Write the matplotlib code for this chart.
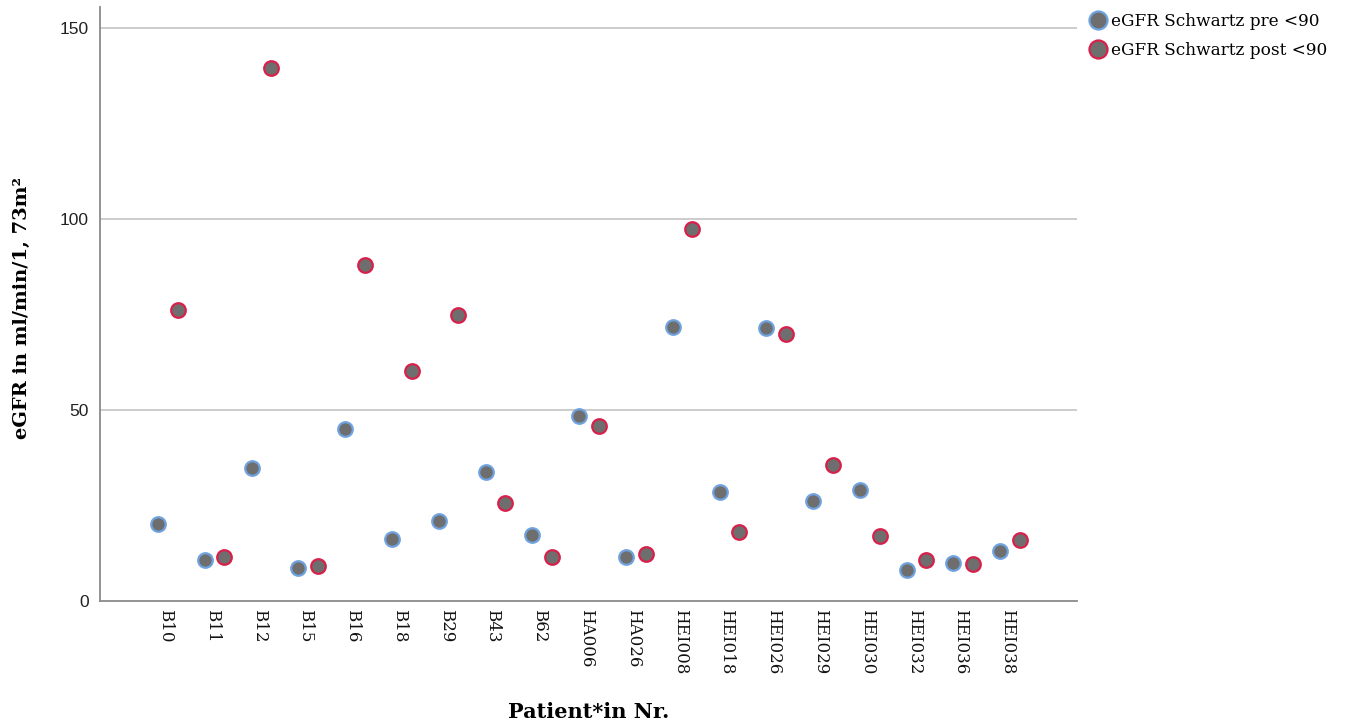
import matplotlib
matplotlib.use("Agg")
import matplotlib.pyplot as plt
import numpy as np
from matplotlib.lines import Line2D

patients = ["B10", "B11", "B12", "B15", "B16", "B18", "B29", "B43", "B62",
            "HA006", "HA026", "HEI008", "HEI018", "HEI026", "HEI029", "HEI030",
            "HEI032", "HEI036", "HEI038"]
pre = [20.2, 10.7, 34.8, 8.6, 45.0, 16.2, 20.9, 33.8, 17.3,
       48.4, 11.5, 71.7, 28.5, 71.5, 26.2, 29.1, 8.1, 9.9, 13.1]
post = [76.2, 11.5, 139.5, 9.2, 88.0, 60.2, 74.9, 25.7, 11.5,
        45.8, 12.3, 97.4, 18.1, 69.9, 35.6, 17.0, 10.7, 9.7, 16.0]
yticks = [0, 50, 100, 150]

fig = plt.figure(figsize=(13.49, 7.26), dpi=100)
ax = fig.add_axes([100/1349, 1-601/726, (1077-100)/1349, (601-7)/726])

x = np.arange(len(patients))
fill = "#6e6e6e"
ax.scatter(x - 0.21, pre, s=110, c=fill, edgecolors="#6fa3e0", linewidths=1.6, zorder=3)
ax.scatter(x + 0.21, post, s=110, c=fill, edgecolors="#d8204a", linewidths=1.6, zorder=3)

ax.set_xlim(-1.45, len(patients) - 1 + 1.43)
ax.set_ylim(0, 155.5)
ax.set_yticks(yticks)
ax.set_yticklabels([str(v) for v in yticks], fontsize=12.5, family="Liberation Sans", color="#222222")
for v in yticks[1:]:
    ax.axhline(v, color="#c8c8c8", lw=1.3, zorder=1)

ax.set_xticks(x - 0.05)
ax.set_xticklabels(patients, rotation=270, fontsize=12, family="DejaVu Serif", color="#111111")
ax.tick_params(axis="x", length=0, pad=6)
ax.tick_params(axis="y", length=0, pad=8)

for s in ["top", "right"]:
    ax.spines[s].set_visible(False)
for s in ["left", "bottom"]:
    ax.spines[s].set_color("#8a8a8a")
    ax.spines[s].set_linewidth(1.3)

fig.text(589/1349, 1-712/726, "Patient*in Nr.", ha="center", va="center",
         fontsize=15, fontweight="bold", family="DejaVu Serif")
fig.text(22/1349, 1-308/726, "eGFR in ml/min/1, 73m²", ha="center", va="center",
         rotation=90, fontsize=14, fontweight="bold", family="DejaVu Serif")

handles = [Line2D([], [], ls="", marker="o", markersize=13, markerfacecolor=fill,
                  markeredgecolor="#6fa3e0", markeredgewidth=1.6),
           Line2D([], [], ls="", marker="o", markersize=13, markerfacecolor=fill,
                  markeredgecolor="#d8204a", markeredgewidth=1.6)]
fig.legend(handles, ["eGFR Schwartz pre <90", "eGFR Schwartz post <90"],
           loc="upper left", bbox_to_anchor=(1080/1349, 1-6/726), frameon=False,
           prop={"family": "DejaVu Serif", "size": 12.2}, handletextpad=0.15,
           labelspacing=0.7, borderaxespad=0, handlelength=1.3)

fig.savefig("out.png", dpi=100)
